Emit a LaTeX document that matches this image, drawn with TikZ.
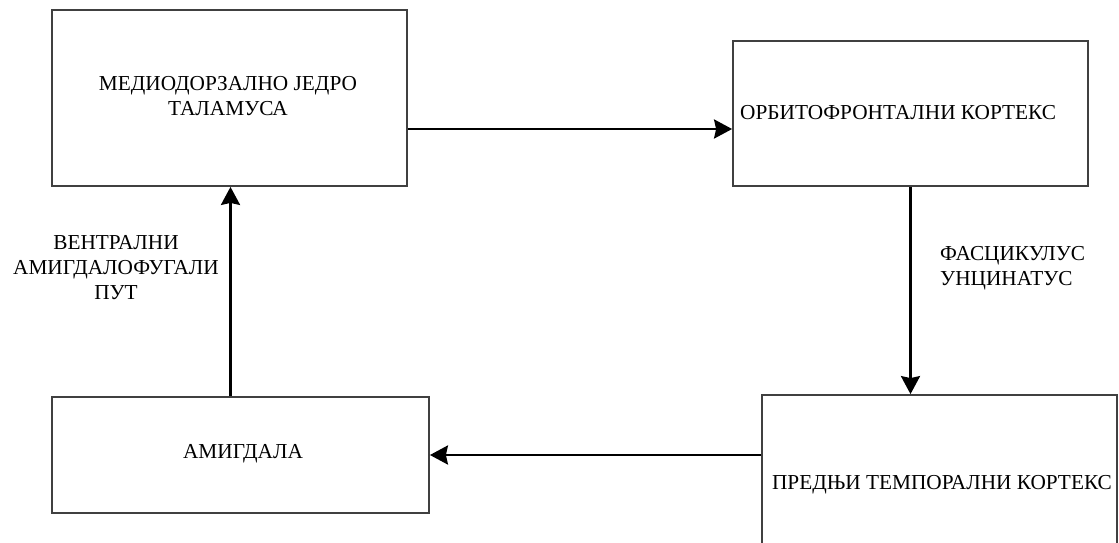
\documentclass[tikz,border=0pt]{standalone}
\usepackage{fontspec}
\setmainfont{Liberation Serif}
\usetikzlibrary{arrows.meta}
\begin{document}
\begin{tikzpicture}[x=1pt,y=-1pt,
  box/.style={draw=black!75, line width=1.8pt, rectangle, inner sep=0pt},
  txt/.style={font=\fontsize{21.3}{25}\selectfont, inner sep=0pt, align=center},
  arr/.style={line width=2.6pt, -{Stealth[length=18pt,width=19pt,inset=2pt]}}]
\useasboundingbox (0,0) rectangle (1119,542);
\clip (0,0) rectangle (1119,542);
\fill[white] (0,0) rectangle (1119,542);
\node[box, minimum width=355pt, minimum height=176pt] (b1) at (229.5,98) {};
\node[box, minimum width=355pt, minimum height=145pt] (b2) at (910.5,113.5) {};
\node[box, minimum width=377pt, minimum height=116pt] (b3) at (240.5,455) {};
\node[box, minimum width=355pt, minimum height=180pt] (b4) at (939.5,485) {};
\node[txt] (t1) at (228,96) {МЕДИОДОРЗАЛНО ЈЕДРО\\ТАЛАМУСА};
\node[txt, anchor=west] (t2) at (740,113) {ОРБИТОФРОНТАЛНИ КОРТЕКС};
\node[txt] (t3) at (243,454) {АМИГДАЛА};
\node[txt] (t4) at (942,485) {ПРЕДЊИ ТЕМПОРАЛНИ КОРТЕКС};
\node[txt] (l1) at (116,268) {ВЕНТРАЛНИ\\АМИГДАЛОФУГАЛИ\\ПУТ};
\node[txt, align=left, anchor=west] (l2) at (940,268) {ФАСЦИКУЛУС\\УНЦИНАТУС};
\draw[arr] ([yshift=-31pt]b1.east) -- ([yshift=-15.5pt]b2.west);
\draw[arr] (b2.south) -- (b2.south |- b4.north);
\draw[arr] (b4.west |- b3.east) -- (b3.east);
\draw[arr] ([xshift=1pt]b3.north -| b1.south) -- ([xshift=1pt]b1.south);
\end{tikzpicture}
\end{document}
